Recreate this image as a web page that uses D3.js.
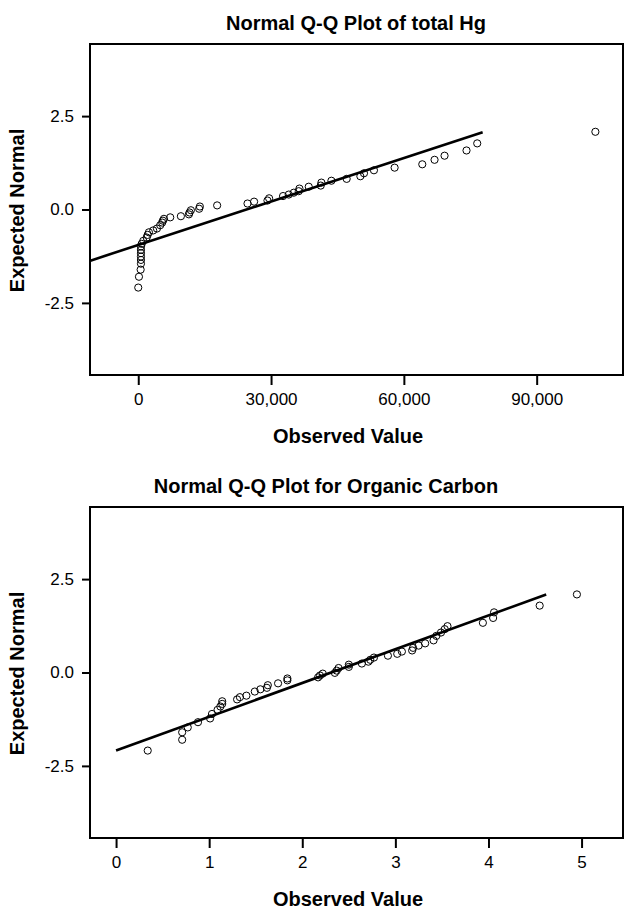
<!DOCTYPE html>
<html>
<head>
<meta charset="utf-8">
<script src="https://cdn.jsdelivr.net/npm/d3@7"></script>
<style>
  body { margin: 0; background: #fff; }
  svg { display: block; font-family: "Liberation Sans", Arial, Helvetica, sans-serif; }
</style>
</head>
<body>
<svg id="chart" width="627" height="912"></svg>
<script>
/* Q-Q plots: total Hg and organic carbon */
var hgObserved = [103260, 76570, 74150, 69190, 66930, 64160, 57910, 53240, 50990, 50170,
  47080, 43630, 41370, 41220, 38510, 36410, 36250, 35130, 34000, 32710,
  29560, 29190, 26170, 24680, 17820, 13920, 13760, 11890, 11590, 11440,
  9630, 7220, 5800, 5570, 5410, 4960, 4220, 3380, 2410, 2120,
  1900, 1130, 770, 610, 610, 610, 610, 610, 610, 540, 160, 0];
var hgExpected = [2.08, 1.77, 1.58, 1.44, 1.33, 1.21, 1.12, 1.05, 0.97, 0.89,
  0.82, 0.77, 0.72, 0.64, 0.61, 0.56, 0.49, 0.45, 0.40, 0.36,
  0.30, 0.24, 0.21, 0.16, 0.11, 0.08, 0.02, -0.02, -0.08, -0.13,
  -0.18, -0.21, -0.25, -0.30, -0.35, -0.42, -0.51, -0.56, -0.61, -0.68,
  -0.75, -0.84, -0.92, -0.99, -1.08, -1.17, -1.26, -1.35, -1.45, -1.61, -1.80, -2.09];
var hgLineX = [-29400, 77800];
var hgLineY = [-2.09, 2.07];
var hgTicksX = [0, 30000, 60000, 90000];

var ocObserved = [4.95, 4.55, 4.06, 4.05, 3.94, 3.56, 3.53, 3.49, 3.44, 3.41,
  3.32, 3.25, 3.19, 3.18, 3.07, 3.02, 2.92, 2.77, 2.73, 2.71,
  2.64, 2.50, 2.50, 2.39, 2.37, 2.35, 2.22, 2.19, 2.17, 1.84,
  1.84, 1.74, 1.63, 1.62, 1.55, 1.49, 1.40, 1.33, 1.30, 1.14,
  1.14, 1.12, 1.09, 1.03, 1.01, 0.88, 0.77, 0.71, 0.71, 0.34];
var ocExpected = [2.09, 1.79, 1.61, 1.46, 1.33, 1.24, 1.16, 1.07, 0.98, 0.86,
  0.78, 0.72, 0.66, 0.59, 0.56, 0.50, 0.45, 0.40, 0.34, 0.29,
  0.24, 0.21, 0.15, 0.12, 0.05, -0.01, -0.03, -0.08, -0.13, -0.16,
  -0.21, -0.29, -0.34, -0.41, -0.45, -0.51, -0.62, -0.66, -0.72, -0.77,
  -0.84, -0.91, -1.00, -1.11, -1.23, -1.33, -1.47, -1.60, -1.80, -2.09];
var ocLineX = [0, 4.62];
var ocLineY = [-2.09, 2.09];
var ocTicksX = [0, 1, 2, 3, 4, 5];

var ticksY = [-2.5, 0, 2.5];

var loc = d3.formatLocale({decimal: ".", thousands: ",", grouping: [3], currency: ["", ""], minus: "-"});

var svg = d3.select('#chart');

function drawPanel(opt) {
  var left = 90, right = 623;
  var x = d3.scaleLinear().domain(opt.xDomain).range([left, right]);
  var y = d3.scaleLinear().domain([-4.43, 4.43]).range([opt.bottom, opt.top]);
  var g = svg.append('g');

  g.append('text')
    .attr('x', opt.titleX)
    .attr('y', opt.top - 14)
    .attr('text-anchor', 'middle')
    .attr('font-size', '20px')
    .attr('font-weight', 'bold')
    .text(opt.title);

  g.append('clipPath').attr('id', opt.id + 'clip')
    .append('rect')
    .attr('x', left).attr('y', opt.top)
    .attr('width', right - left).attr('height', opt.bottom - opt.top);

  // x axis
  var ax = g.append('g')
    .attr('transform', 'translate(0,' + opt.bottom + ')')
    .call(d3.axisBottom(x).tickValues(opt.ticksX).tickSize(10).tickPadding(8)
      .tickFormat(opt.fmtX));
  ax.select('.domain').remove();
  ax.selectAll('line').attr('stroke', '#000').attr('stroke-width', 2);
  ax.selectAll('text').attr('font-size', '17px').attr('font-family', null).attr('fill', '#000');

  // y axis
  var ay = g.append('g')
    .attr('transform', 'translate(' + left + ',0)')
    .call(d3.axisLeft(y).tickValues(ticksY).tickSize(8).tickPadding(8)
      .tickFormat(loc.format('.1f')));
  ay.select('.domain').remove();
  ay.selectAll('line').attr('stroke', '#000').attr('stroke-width', 2);
  ay.selectAll('text').attr('font-size', '17px').attr('font-family', null).attr('fill', '#000');

  g.append('rect')
    .attr('x', left).attr('y', opt.top)
    .attr('width', right - left).attr('height', opt.bottom - opt.top)
    .attr('fill', 'none')
    .attr('stroke', '#000')
    .attr('stroke-width', 2);

  g.append('text')
    .attr('x', 348)
    .attr('y', opt.bottom + 68)
    .attr('text-anchor', 'middle')
    .attr('font-size', '20px')
    .attr('font-weight', 'bold')
    .text('Observed Value');

  g.append('text')
    .attr('transform', 'translate(24,' + (y(0) + 1) + ') rotate(-90)')
    .attr('text-anchor', 'middle')
    .attr('font-size', '20px')
    .attr('font-weight', 'bold')
    .text('Expected Normal');

  var plot = g.append('g').attr('clip-path', 'url(#' + opt.id + 'clip)');

  plot.append('line')
    .attr('x1', x(opt.lineX[0])).attr('y1', y(opt.lineY[0]))
    .attr('x2', x(opt.lineX[1])).attr('y2', y(opt.lineY[1]))
    .attr('stroke', '#000')
    .attr('stroke-width', 2.6);

  plot.selectAll('circle')
    .data(opt.obs)
    .enter()
    .append('circle')
    .attr('cx', function(d) { return x(d); })
    .attr('cy', function(d, i) { return y(opt.exp[i]); })
    .attr('r', 3.6)
    .attr('fill', 'none')
    .attr('stroke', '#000')
    .attr('stroke-width', 1);
}

drawPanel({
  id: 'hg', title: 'Normal Q-Q Plot of total Hg', titleX: 356,
  top: 44, bottom: 375,
  xDomain: [-10900, 109500],
  ticksX: hgTicksX, fmtX: loc.format(','),
  obs: hgObserved, exp: hgExpected,
  lineX: hgLineX, lineY: hgLineY
});

drawPanel({
  id: 'oc', title: 'Normal Q-Q Plot for Organic Carbon', titleX: 326,
  top: 507, bottom: 838,
  xDomain: [-0.28, 5.445],
  ticksX: ocTicksX, fmtX: loc.format('d'),
  obs: ocObserved, exp: ocExpected,
  lineX: ocLineX, lineY: ocLineY
});
</script>
</body>
</html>
